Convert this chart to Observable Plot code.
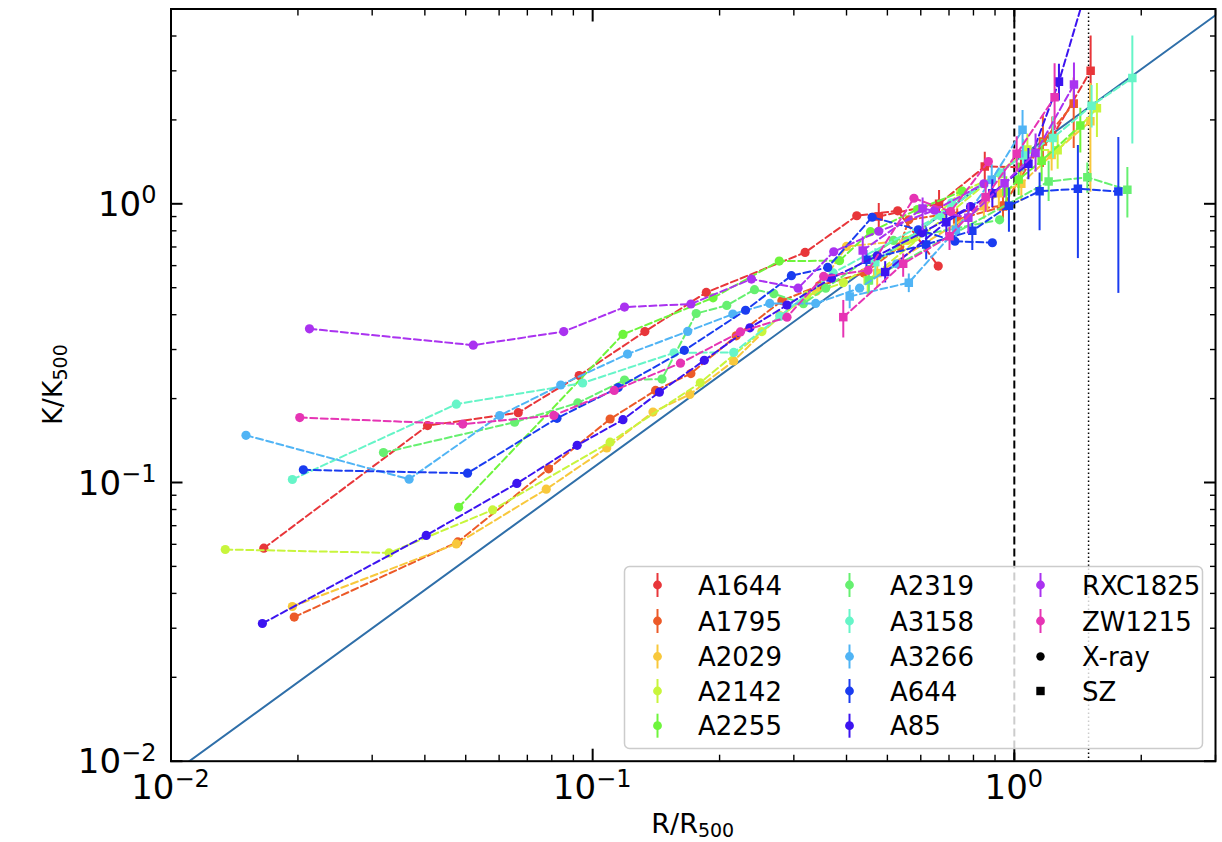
<!DOCTYPE html>
<html><head><meta charset="utf-8">
<script src="https://cdn.jsdelivr.net/npm/d3@7"></script>
<script src="https://cdn.jsdelivr.net/npm/@observablehq/plot@0.6"></script>
<style>body{margin:0;background:#fff;}</style>
</head><body><div id="chart"></div>
<script>
// ---------------- data ----------------
const clusters = ["A1644","A1795","A2029","A2142","A2255","A2319","A3158","A3266","A644","A85","RXC1825","ZW1215"];
const colors   = ["#e8363a","#ec5a28","#f8c83c","#c8f53c","#6ef53c","#66f070","#66f5c8","#50b4f5","#1a3cf0","#3c14f0","#aa32f0","#e634b4"];

const A1644_xray_r = [0.0166,0.0406,0.0666,0.0929,0.133,0.186,0.319,0.423,0.529,0.660];
const A1644_xray_k = [0.0581,0.160,0.178,0.242,0.348,0.481,0.669,0.906,0.944,0.598];
const A1644_sz_r  = [0.477,0.663,0.851,1.037,1.231,1.517];
const A1644_sz_k  = [0.901,1.000,1.361,1.353,1.742,3.00];
const A1644_sz_lo = [0.815,0.888,1.20,1.17,1.45,2.25];
const A1644_sz_hi = [1.003,1.116,1.53,1.55,2.05,4.0];

const A1795_xray_r = [0.0196,0.0479,0.0786,0.110,0.141,0.171,0.219,0.281,0.345,0.440,0.535,0.562,0.937];
const A1795_xray_k = [0.0329,0.0612,0.112,0.169,0.214,0.246,0.336,0.449,0.509,0.564,0.701,0.876,0.986];
const A1795_sz_r  = [0.732,0.940,1.169,1.383];
const A1795_sz_k  = [0.878,0.978,1.672,2.288];
const A1795_sz_lo = [0.80,0.88,1.35,1.58];
const A1795_sz_hi = [0.96,1.09,2.07,2.83];

const A2029_xray_r = [0.0194,0.0475,0.0776,0.108,0.139,0.170,0.216,0.278,0.339,0.400,0.557];
const A2029_xray_k = [0.0359,0.0602,0.0946,0.133,0.179,0.207,0.273,0.397,0.486,0.703,0.739];
const A2029_sz_r  = [0.473,0.847,0.919,1.039,1.226,1.515];
const A2029_sz_k  = [0.564,0.980,1.091,1.180,1.498,1.977];
const A2029_sz_lo = [0.50,0.88,0.97,1.02,1.31,1.10];
const A2029_sz_hi = [0.63,1.09,1.22,1.36,1.78,2.70];

const A2142_xray_r = [0.01345,0.0329,0.0579,0.110,0.180,0.252,0.322,0.393,0.573,0.746,0.928];
const A2142_xray_k = [0.0575,0.0559,0.0797,0.1395,0.228,0.348,0.469,0.521,0.749,1.10,1.28];
const A2142_sz_r  = [0.449,1.074,1.267,1.570];
const A2142_sz_k  = [0.531,1.565,1.556,2.201];
const A2142_sz_lo = [0.47,1.38,1.33,1.73];
const A2142_sz_hi = [0.60,1.78,1.78,2.70];

const A2255_xray_r = [0.0481,0.118,0.193,0.277,0.385,0.456,0.589,0.753];
const A2255_xray_k = [0.0815,0.340,0.460,0.623,0.625,0.794,0.954,1.11];
const A2255_sz_r  = [0.957,1.024,1.161,1.434];
const A2255_sz_k  = [1.107,1.222,1.426,1.908];
const A2255_sz_lo = [0.98,1.07,1.20,1.52];
const A2255_sz_hi = [1.25,1.40,1.70,2.20];

const A2319_xray_r = [0.0319,0.0653,0.0922,0.119,0.146,0.176,0.208,0.242,0.269,0.316,0.357,0.517,0.923];
const A2319_xray_k = [0.128,0.1645,0.193,0.233,0.235,0.404,0.432,0.492,0.476,0.438,0.498,0.739,0.876];
const A2319_sz_r  = [0.452,1.206,1.49,1.854];
const A2319_sz_k  = [0.531,1.202,1.245,1.123];
const A2319_sz_lo = [0.47,1.02,1.09,0.89];
const A2319_sz_hi = [0.60,1.42,1.40,1.35];

const A3158_xray_r = [0.0194,0.0475,0.0947,0.156,0.216,0.278,0.372,0.666,0.710,0.926];
const A3158_xray_k = [0.1025,0.191,0.2275,0.292,0.293,0.3945,0.565,0.908,1.008,1.291];
const A3158_sz_r  = [0.468,1.05,1.235,1.525,1.905];
const A3158_sz_k  = [0.6175,1.49,1.724,2.25,2.829];
const A3158_sz_lo = [0.55,1.30,1.45,1.87,1.64];
const A3158_sz_hi = [0.69,1.70,2.05,2.66,4.0];

const A3266_xray_r = [0.01506,0.0367,0.0602,0.084,0.121,0.168,0.215,0.263,0.338,0.4295,0.526];
const A3266_xray_k = [0.1477,0.1028,0.1739,0.2238,0.289,0.3485,0.402,0.439,0.439,0.498,0.6095];
const A3266_sz_r  = [0.407,0.562,0.727,0.884,1.046];
const A3266_sz_k  = [0.465,0.521,0.807,1.219,1.842];
const A3266_sz_lo = [0.42,0.48,0.72,1.07,1.46];
const A3266_sz_hi = [0.51,0.56,0.90,1.38,2.16];

const A644_xray_r = [0.0206,0.0505,0.0823,0.115,0.165,0.2305,0.296,0.361,0.460,0.592,0.723,0.887];
const A644_xray_k = [0.111,0.108,0.170,0.219,0.298,0.415,0.552,0.591,0.895,0.807,0.734,0.725];
const A644_sz_r  = [0.446,0.618,0.795,0.971,1.148,1.415,1.765];
const A644_sz_k  = [0.63,0.715,0.80,0.984,1.11,1.132,1.107];
const A644_sz_lo = [0.58,0.63,0.68,0.79,0.80,0.636,0.477];
const A644_sz_hi = [0.68,0.82,0.85,1.14,1.29,1.62,1.73];

const A85_xray_r = [0.01647,0.0403,0.0661,0.0919,0.118,0.144,0.184,0.236,0.289,0.3685,0.473,0.604,0.7875];
const A85_xray_k = [0.0312,0.0646,0.0992,0.136,0.168,0.211,0.2745,0.359,0.433,0.541,0.651,0.787,0.978];
const A85_sz_r  = [0.494,0.690,0.887,1.08,1.276,1.52];
const A85_sz_k  = [0.569,0.859,1.091,1.391,2.744,6.7];
const A85_sz_lo = [0.52,0.77,0.97,1.22,2.34,5.0];
const A85_sz_hi = [0.62,0.95,1.22,1.58,3.17,8.5];

const RXC1825_xray_r = [0.0213,0.0521,0.0854,0.119,0.171,0.238,0.307,0.373,0.477,0.647,0.847];
const RXC1825_xray_k = [0.356,0.311,0.348,0.426,0.437,0.537,0.498,0.673,0.797,0.949,1.18];
const RXC1825_sz_r  = [0.437,0.606,0.778,0.948,1.123,1.385];
const RXC1825_sz_k  = [0.68,0.962,0.891,1.185,1.523,2.677];
const RXC1825_sz_lo = [0.61,0.80,0.78,1.05,1.30,2.2];
const RXC1825_sz_hi = [0.76,1.05,1.00,1.33,1.78,3.2];

const ZW1215_xray_r = [0.0202,0.0492,0.0809,0.1125,0.1615,0.224,0.289,0.353,0.450,0.578,0.706,0.868];
const ZW1215_xray_k = [0.171,0.162,0.174,0.214,0.268,0.347,0.392,0.549,0.577,1.047,0.938,1.418];
const ZW1215_sz_r  = [0.393,0.545,0.702,0.855,1.013,1.246];
const ZW1215_sz_k  = [0.392,0.6095,0.765,1.056,1.511,2.41];
const ZW1215_sz_lo = [0.33,0.545,0.68,0.93,1.30,1.83];
const ZW1215_sz_hi = [0.45,0.66,0.82,1.19,1.74,3.18];

// reference relation K/K500 = 1.42 (R/R500)^1.1, end points
const ref_r = [0.01, 3.0];
const ref_k = [0.00896, 4.75];
const r500_line = [1.0];
const r200_line = [1.5];

const majorTicks = [0.01, 0.1, 1];
const majorExp   = ["\u22122", "\u22121", "0"];
const xMinorTicks = [0.02,0.03,0.04,0.05,0.06,0.07,0.08,0.09,0.2,0.3,0.4,0.5,0.6,0.7,0.8,0.9,2,3];
const yMinorTicks = [0.02,0.03,0.04,0.05,0.06,0.07,0.08,0.09,0.2,0.3,0.4,0.5,0.6,0.7,0.8,0.9,2,3,4];

// ---------------- tables ----------------
const series = {
  A1644:[A1644_xray_r,A1644_xray_k,A1644_sz_r,A1644_sz_k,A1644_sz_lo,A1644_sz_hi],
  A1795:[A1795_xray_r,A1795_xray_k,A1795_sz_r,A1795_sz_k,A1795_sz_lo,A1795_sz_hi],
  A2029:[A2029_xray_r,A2029_xray_k,A2029_sz_r,A2029_sz_k,A2029_sz_lo,A2029_sz_hi],
  A2142:[A2142_xray_r,A2142_xray_k,A2142_sz_r,A2142_sz_k,A2142_sz_lo,A2142_sz_hi],
  A2255:[A2255_xray_r,A2255_xray_k,A2255_sz_r,A2255_sz_k,A2255_sz_lo,A2255_sz_hi],
  A2319:[A2319_xray_r,A2319_xray_k,A2319_sz_r,A2319_sz_k,A2319_sz_lo,A2319_sz_hi],
  A3158:[A3158_xray_r,A3158_xray_k,A3158_sz_r,A3158_sz_k,A3158_sz_lo,A3158_sz_hi],
  A3266:[A3266_xray_r,A3266_xray_k,A3266_sz_r,A3266_sz_k,A3266_sz_lo,A3266_sz_hi],
  A644:[A644_xray_r,A644_xray_k,A644_sz_r,A644_sz_k,A644_sz_lo,A644_sz_hi],
  A85:[A85_xray_r,A85_xray_k,A85_sz_r,A85_sz_k,A85_sz_lo,A85_sz_hi],
  RXC1825:[RXC1825_xray_r,RXC1825_xray_k,RXC1825_sz_r,RXC1825_sz_k,RXC1825_sz_lo,RXC1825_sz_hi],
  ZW1215:[ZW1215_xray_r,ZW1215_xray_k,ZW1215_sz_r,ZW1215_sz_k,ZW1215_sz_lo,ZW1215_sz_hi]
};
const refRows = ref_r.map((r,i)=>({r, k: ref_k[i]}));

const FONT = "DejaVu Sans, sans-serif";
const marks = [];
marks.push(Plot.ruleX(r500_line, {stroke:"black", strokeWidth:2, strokeDasharray:"8,4"}));
marks.push(Plot.ruleX(r200_line, {stroke:"black", strokeWidth:1.5, strokeDasharray:"1.5,2.5"}));
marks.push(Plot.line(refRows, {x:"r", y:"k", stroke:"#2f6fa9", strokeWidth:2, clip:true}));
for (const c of clusters) {
  const [xr, xk, sr, sk, slo, shi] = series[c];
  const xray = xr.map((r,i)=>({cluster:c, r, k:xk[i]}));
  const sz = sr.map((r,i)=>({cluster:c, r, k:sk[i], lo:slo[i], hi:shi[i]}));
  marks.push(Plot.line(xray, {x:"r", y:"k", stroke:"cluster", strokeWidth:2, strokeDasharray:"7,3.5", clip:true}));
  marks.push(Plot.dot(xray, {x:"r", y:"k", fill:"cluster", r:4.6, clip:true}));
  marks.push(Plot.line(sz, {x:"r", y:"k", stroke:"cluster", strokeWidth:2, strokeDasharray:"7,3.5", clip:true}));
  marks.push(Plot.ruleX(sz, {x:"r", y1:"lo", y2:"hi", stroke:"cluster", strokeWidth:2, clip:true}));
  marks.push(Plot.dot(sz, {x:"r", y:"k", fill:"cluster", symbol:"square", r:4.8, clip:true}));
}
// inward ticks on all four sides
const blank = () => "";
for (const a of ["bottom","top"]) {
  marks.push(Plot.axisX(majorTicks, {anchor:a, tickSize:-12, strokeWidth:2, tickFormat:blank, label:null}));
  marks.push(Plot.axisX(xMinorTicks, {anchor:a, tickSize:-6, strokeWidth:1.4, tickFormat:blank, label:null}));
}
for (const a of ["left","right"]) {
  marks.push(Plot.axisY(majorTicks, {anchor:a, tickSize:-12, strokeWidth:2, tickFormat:blank, label:null}));
  marks.push(Plot.axisY(yMinorTicks, {anchor:a, tickSize:-6, strokeWidth:1.4, tickFormat:blank, label:null}));
}
marks.push(Plot.frame({stroke:"black", strokeWidth:2}));

const chart = Plot.plot({
  width: 1222, height: 842,
  marginLeft: 170.5, marginRight: 7, marginTop: 8.5, marginBottom: 81.3,
  style: {fontFamily: FONT, background: "white"},
  x: {type:"log", domain:[0.01, 3.0]},
  y: {type:"log", domain:[0.01, 5.0]},
  color: {domain: clusters, range: colors},
  marks
});
document.getElementById("chart").appendChild(chart);

// ---------------- labels and legend ----------------
const svg = d3.select(chart);
const xs = chart.scale("x"), ys = chart.scale("y");
const X = v => xs.apply(v), Y = v => ys.apply(v);
const x0 = X(0.01), y0 = Y(0.01);

majorTicks.forEach((v,i) => {
  const t = svg.append("text").attr("x", X(v)).attr("y", y0 + 38.6)
    .attr("text-anchor","middle").attr("font-size",34).attr("font-family",FONT).attr("fill","black");
  t.append("tspan").text("10");
  t.append("tspan").attr("font-size",24).attr("dy",-12.5).text(majorExp[i]);
  const u = svg.append("text").attr("x", x0 - 14).attr("y", Y(v) + 12.5)
    .attr("text-anchor","end").attr("font-size",34).attr("font-family",FONT).attr("fill","black");
  u.append("tspan").text("10");
  u.append("tspan").attr("font-size",24).attr("dy",-12.5).text(majorExp[i]);
});

// axis titles
const xt = svg.append("text").attr("x", (X(0.01)+X(3.0))/2).attr("y", 833)
  .attr("text-anchor","middle").attr("font-size",27).attr("font-family",FONT);
xt.append("tspan").text("R/R");
xt.append("tspan").attr("font-size",19).attr("dy",4).text("500");
const yt = svg.append("text").attr("transform", `translate(62,${(Y(0.01)+Y(5.0))/2}) rotate(-90)`)
  .attr("text-anchor","middle").attr("font-size",27).attr("font-family",FONT);
yt.append("tspan").text("K/K");
yt.append("tspan").attr("font-size",19).attr("dy",5).text("500");

// legend
const lg = svg.append("g");
lg.append("rect").attr("x",624.5).attr("y",566.5).attr("width",578).attr("height",182)
  .attr("rx",5).attr("fill","white").attr("fill-opacity",0.8).attr("stroke","#cccccc").attr("stroke-width",1.5);
const colX = [657.5, 849.5, 1040.5];
const textX = [698, 890, 1082];
const rowY = [585, 621, 656.5, 691, 725.7];
const entries = clusters.map((c,i)=>({label:c, color:colors[i], kind:"err"}))
  .concat([{label:"X-ray", color:"black", kind:"circle"}, {label:"SZ", color:"black", kind:"square"}]);
entries.forEach((e,i) => {
  const col = Math.floor(i/5), row = i%5;
  const mx = colX[col], my = rowY[row];
  if (e.kind === "err") {
    lg.append("line").attr("x1",mx).attr("x2",mx).attr("y1",my-12).attr("y2",my+12)
      .attr("stroke",e.color).attr("stroke-width",2);
    lg.append("circle").attr("cx",mx).attr("cy",my).attr("r",4.4).attr("fill",e.color);
  } else if (e.kind === "circle") {
    lg.append("circle").attr("cx",mx).attr("cy",my).attr("r",4.2).attr("fill","black");
  } else {
    lg.append("rect").attr("x",mx-4.2).attr("y",my-4.2).attr("width",8.4).attr("height",8.4).attr("fill","black");
  }
  lg.append("text").attr("x",textX[col]).attr("y",my+9.5).attr("font-size",26)
    .attr("text-anchor","start").attr("font-family",FONT).attr("fill","black").text(e.label);
});
</script>
</body></html>
